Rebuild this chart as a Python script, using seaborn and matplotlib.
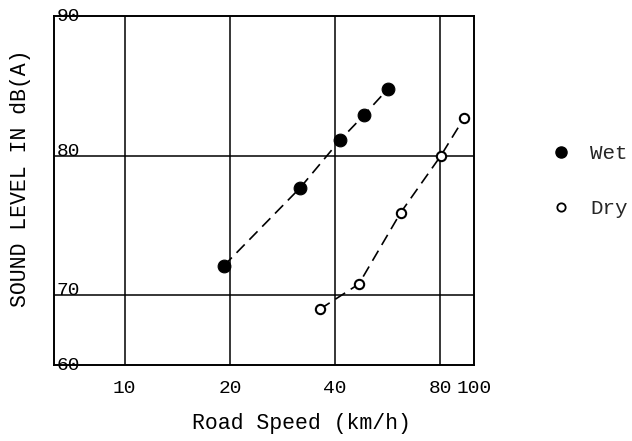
import numpy as np
import pandas as pd
import matplotlib
matplotlib.use("Agg")
import matplotlib.pyplot as plt
from matplotlib.lines import Line2D
import seaborn as sns

# values
wet_speed = [19.2, 31.8, 41.3, 48.4, 56.8]
wet_level = [72.1, 77.7, 81.1, 82.9, 84.8]
dry_speed = [36.2, 46.8, 61.6, 80.4, 93.7]
dry_level = [68.0, 70.8, 75.9, 80.0, 82.7]

x_ticks = [10, 20, 40, 80, 100]
y_ticks = [60, 70, 80, 90]

sns.set_theme(style="white")
plt.rcParams['font.family'] = ['Liberation Mono', 'DejaVu Sans Mono']


# the original sheet squeezes the 60-70 band to half height
def squeeze(y):
    y = np.asarray(y, dtype=float)
    return np.where(y >= 70, y, 70 - (70 - y) * 0.5)


def unsqueeze(v):
    v = np.asarray(v, dtype=float)
    return np.where(v >= 70, v, 70 - (70 - v) * 2.0)


df = pd.concat([
    pd.DataFrame({"speed": wet_speed, "level": wet_level, "road": "Wet"}),
    pd.DataFrame({"speed": dry_speed, "level": dry_level, "road": "Dry"}),
])

fig = plt.figure(figsize=(6.32, 4.41), dpi=100)
ax = fig.add_axes([0.0854, 0.1723, 0.6646, 0.7914])

ax.set_xscale('log')
ax.set_yscale('function', functions=(squeeze, unsqueeze))

for x in [10, 20, 40, 80]:
    ax.axvline(x, color='black', lw=1.1, zorder=1)
for y in [70, 80]:
    ax.axhline(y, color='black', lw=1.1, zorder=1)

wet = df[df.road == "Wet"]
dry = df[df.road == "Dry"]
sns.lineplot(data=wet, x="speed", y="level", ax=ax, color='black', lw=1.2,
             linestyle=(0, (7, 4)), sort=True, estimator=None, zorder=2)
sns.lineplot(data=dry, x="speed", y="level", ax=ax, color='black', lw=1.2,
             linestyle=(0, (7, 4)), sort=True, estimator=None, zorder=2)
sns.scatterplot(data=wet, x="speed", y="level", ax=ax, color='black', s=85,
                edgecolor='black', zorder=3)
sns.scatterplot(data=dry, x="speed", y="level", ax=ax, color='white', s=45,
                edgecolor='black', linewidth=1.5, zorder=3)

ax.set_xlim(6.27, 100)
ax.set_ylim(60, 90)
ax.xaxis.set_minor_locator(matplotlib.ticker.NullLocator())
ax.set_xticks(x_ticks)
ax.set_xticklabels([str(v) for v in x_ticks])
ax.set_yticks(y_ticks)
ax.set_yticklabels([str(v) for v in y_ticks])
ax.tick_params(axis='x', length=0, pad=11, labelsize=14, colors='black')
ax.tick_params(axis='y', length=0, pad=-2, labelsize=14, colors='black')
valign = {"60": 'center', "70": 'baseline', "80": 'baseline', "90": 'center'}
for lab in ax.get_yticklabels():
    lab.set_horizontalalignment('left')
    lab.set_verticalalignment(valign[lab.get_text()])

for sp in ax.spines.values():
    sp.set_color('black')
    sp.set_linewidth(1.4)

ax.set_xlabel("Road Speed (km/h)", fontsize=15.5, color='black')
ax.set_ylabel("SOUND LEVEL IN dB(A)", fontsize=15.5, color='black')
ax.xaxis.set_label_coords(0.589, -0.1375)
ax.yaxis.set_label_coords(-0.055, 0.536)

handles = [
    Line2D([], [], marker='o', ls='none', color='black', markersize=8),
    Line2D([], [], marker='o', ls='none', markerfacecolor='white',
           markeredgecolor='black', markeredgewidth=1.3, markersize=6),
]
ax.legend(handles, ["Wet", "Dry"], loc='center left', bbox_to_anchor=(1.113, 0.527),
          frameon=False, fontsize=15, handletextpad=0.4, labelspacing=1.75)

fig.savefig("out.png", dpi=100)
